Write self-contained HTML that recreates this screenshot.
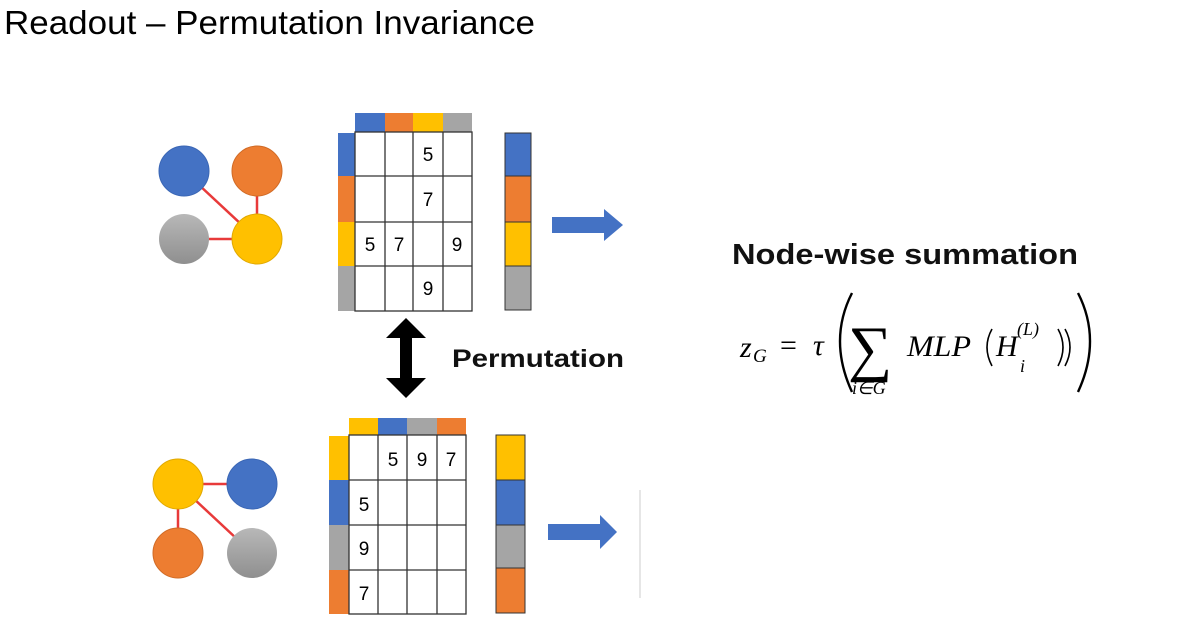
<!DOCTYPE html>
<html><head><meta charset="utf-8"><style>
body{margin:0;width:1204px;height:622px;background:#fff;overflow:hidden;position:relative;font-family:"Liberation Sans",sans-serif}
</style></head><body>
<svg width="1204" height="622" viewBox="0 0 1204 622" xmlns="http://www.w3.org/2000/svg" style="position:absolute;left:0;top:0">
<defs>
<linearGradient id="g" x1="0" y1="0" x2="0" y2="1"><stop offset="0" stop-color="#b8b8b8"/><stop offset="1" stop-color="#8f8f8f"/></linearGradient>
</defs>
<text x="4" y="34" font-size="33" fill="#000" textLength="531" lengthAdjust="spacingAndGlyphs" font-family="Liberation Sans, sans-serif">Readout – Permutation Invariance</text>

<!-- top graph -->
<g stroke="#e83a3a" stroke-width="2.5">
<line x1="184" y1="171" x2="257" y2="239"/><line x1="257" y1="171" x2="257" y2="239"/><line x1="184" y1="239" x2="257" y2="239"/>
</g>
<circle cx="184" cy="171" r="25" fill="#4472c4" stroke="#3a66b5"/>
<circle cx="257" cy="171" r="25" fill="#ed7d31" stroke="#d06a25"/>
<circle cx="184" cy="239" r="25" fill="url(#g)"/>
<circle cx="257" cy="239" r="25" fill="#ffc000" stroke="#e0a800"/>

<!-- top matrix -->
<rect x="355" y="113" width="30" height="19" fill="#4472c4"/>
<rect x="385" y="113" width="28" height="19" fill="#ed7d31"/>
<rect x="413" y="113" width="30" height="19" fill="#ffc000"/>
<rect x="443" y="113" width="29" height="19" fill="#a5a5a5"/>
<rect x="338" y="133" width="17" height="43" fill="#4472c4"/>
<rect x="338" y="176" width="17" height="46" fill="#ed7d31"/>
<rect x="338" y="222" width="17" height="44" fill="#ffc000"/>
<rect x="338" y="266" width="17" height="45" fill="#a5a5a5"/>
<g stroke="#333" stroke-width="1.3" fill="none">
<rect x="355" y="132" width="117" height="179"/>
<line x1="385" y1="132" x2="385" y2="311"/><line x1="413" y1="132" x2="413" y2="311"/><line x1="443" y1="132" x2="443" y2="311"/>
<line x1="355" y1="176" x2="472" y2="176"/><line x1="355" y1="222" x2="472" y2="222"/><line x1="355" y1="266" x2="472" y2="266"/>
</g>
<g font-size="19" fill="#000" text-anchor="middle">
<text x="428" y="161">5</text><text x="428" y="206">7</text>
<text x="370" y="251">5</text><text x="399" y="251">7</text><text x="457" y="251">9</text>
<text x="428" y="295">9</text>
</g>
<rect x="505" y="133" width="26" height="43" fill="#4472c4" stroke="#333"/>
<rect x="505" y="176" width="26" height="46" fill="#ed7d31" stroke="#333"/>
<rect x="505" y="222" width="26" height="44" fill="#ffc000" stroke="#333"/>
<rect x="505" y="266" width="26" height="44" fill="#a5a5a5" stroke="#333"/>
<polygon points="552,217 604,217 604,209 623,225 604,241 604,233 552,233" fill="#4472c4"/>

<!-- double arrow -->
<polygon points="406,318 426,338 412,338 412,378 426,378 406,398 386,378 400,378 400,338 386,338" fill="#000"/>
<text x="452" y="367" font-size="25" font-weight="bold" fill="#111" textLength="172" lengthAdjust="spacingAndGlyphs">Permutation</text>

<!-- bottom graph -->
<g stroke="#e83a3a" stroke-width="2.5">
<line x1="178" y1="484" x2="252" y2="484"/><line x1="178" y1="484" x2="178" y2="553"/><line x1="178" y1="484" x2="252" y2="553"/>
</g>
<circle cx="178" cy="484" r="25" fill="#ffc000" stroke="#e0a800"/>
<circle cx="252" cy="484" r="25" fill="#4472c4" stroke="#3a66b5"/>
<circle cx="178" cy="553" r="25" fill="#ed7d31" stroke="#d06a25"/>
<circle cx="252" cy="553" r="25" fill="url(#g)"/>

<!-- bottom matrix -->
<rect x="349" y="418" width="29" height="17" fill="#ffc000"/>
<rect x="378" y="418" width="29" height="17" fill="#4472c4"/>
<rect x="407" y="418" width="30" height="17" fill="#a5a5a5"/>
<rect x="437" y="418" width="29" height="17" fill="#ed7d31"/>
<rect x="329" y="436" width="20" height="44" fill="#ffc000"/>
<rect x="329" y="480" width="20" height="45" fill="#4472c4"/>
<rect x="329" y="525" width="20" height="45" fill="#a5a5a5"/>
<rect x="329" y="570" width="20" height="44" fill="#ed7d31"/>
<g stroke="#333" stroke-width="1.3" fill="none">
<rect x="349" y="435" width="117" height="179"/>
<line x1="378" y1="435" x2="378" y2="614"/><line x1="407" y1="435" x2="407" y2="614"/><line x1="437" y1="435" x2="437" y2="614"/>
<line x1="349" y1="480" x2="466" y2="480"/><line x1="349" y1="525" x2="466" y2="525"/><line x1="349" y1="570" x2="466" y2="570"/>
</g>
<g font-size="19" fill="#000" text-anchor="middle">
<text x="393" y="466">5</text><text x="422" y="466">9</text><text x="451" y="466">7</text>
<text x="364" y="511">5</text><text x="364" y="555">9</text><text x="364" y="600">7</text>
</g>
<rect x="496" y="435" width="29" height="45" fill="#ffc000" stroke="#333"/>
<rect x="496" y="480" width="29" height="45" fill="#4472c4" stroke="#333"/>
<rect x="496" y="525" width="29" height="43" fill="#a5a5a5" stroke="#333"/>
<rect x="496" y="568" width="29" height="45" fill="#ed7d31" stroke="#333"/>
<polygon points="548,524 600,524 600,515 617,532 600,549 600,540 548,540" fill="#4472c4"/>
<line x1="640" y1="490" x2="640" y2="598" stroke="#ddd" stroke-width="1.5"/>

<!-- formula -->
<text x="732" y="264" font-size="29" font-weight="bold" fill="#111" textLength="346" lengthAdjust="spacingAndGlyphs">Node-wise summation</text>
<g font-family="Liberation Serif, serif" fill="#000">
<text x="740" y="357" font-size="30" font-style="italic">z</text>
<text x="753" y="362" font-size="19" font-style="italic">G</text>
<text x="780" y="355" font-size="30">=</text>
<text x="813" y="355" font-size="30" font-style="italic">τ</text>
<path d="M852,293 Q828,340 852,392" stroke="#000" stroke-width="2.4" fill="none"/>
<text x="848" y="369" font-size="62">∑</text>
<text x="852" y="394" font-size="18" font-style="italic">i∈G</text>
<text x="907" y="356" font-size="30" font-style="italic" textLength="64" lengthAdjust="spacingAndGlyphs">MLP</text>
<path d="M992,329 Q982,347 992,366" stroke="#000" stroke-width="1.6" fill="none"/>
<text x="996" y="356" font-size="30" font-style="italic">H</text>
<text x="1017" y="335" font-size="18" font-style="italic">(L)</text>
<text x="1020" y="372" font-size="18" font-style="italic">i</text>
<path d="M1058,329 Q1068,347 1058,366" stroke="#000" stroke-width="1.6" fill="none"/>
<path d="M1065,329 Q1075,347 1065,366" stroke="#000" stroke-width="1.6" fill="none"/>
<path d="M1078,293 Q1102,340 1078,392" stroke="#000" stroke-width="2.4" fill="none"/>
</g>
</svg>
</body></html>
